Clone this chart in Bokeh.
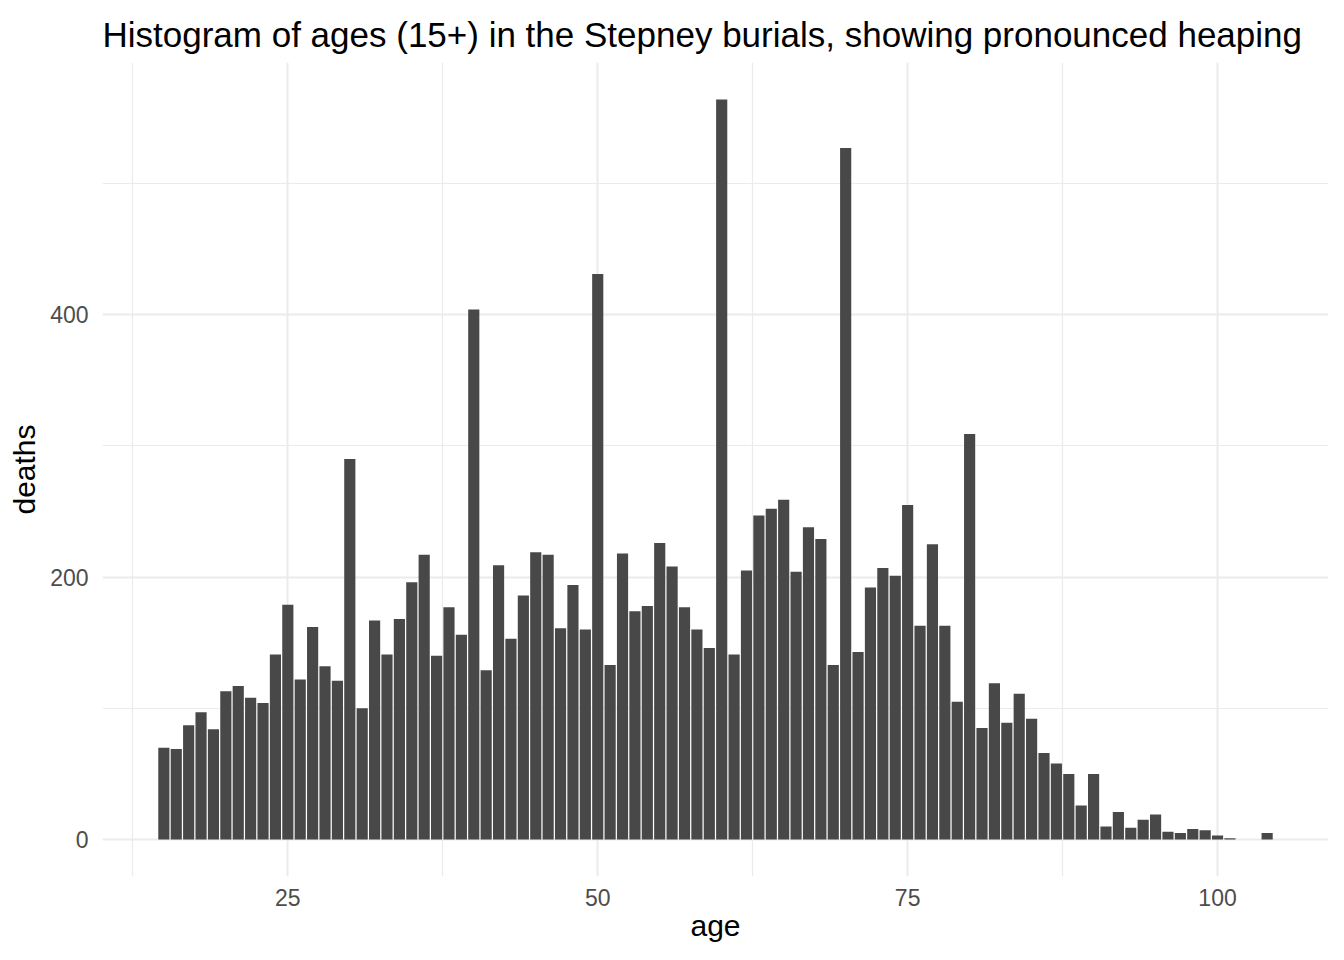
from bokeh.plotting import figure
from bokeh.models import Range1d, FixedTicker
from bokeh.embed import file_html
from bokeh.resources import INLINE

ages = list(range(15, 105))
deaths = [70, 69, 87, 97, 84, 113, 117, 108, 104, 141,
          179, 122, 162, 132, 121, 290, 100, 167, 141, 168,
          196, 217, 140, 177, 156, 404, 129, 209, 153, 186,
          219, 217, 161, 194, 160, 431, 133, 218, 174, 178,
          226, 208, 177, 160, 146, 564, 141, 205, 247, 252,
          259, 204, 238, 229, 133, 527, 143, 192, 207, 201,
          255, 163, 225, 163, 105, 309, 85, 119, 89, 111,
          92, 66, 58, 50, 26, 50, 10, 21, 9, 15,
          19, 6, 5, 8, 7, 3, 1, 0, 0, 5]
x_ticks = [25, 50, 75, 100]
x_minor = [12.5, 37.5, 62.5, 87.5]
y_ticks = [0, 200, 400]
y_minor = [100, 300, 500]
title_text = "Histogram of ages (15+) in the Stepney burials, showing pronounced heaping"

FONT = "Liberation Sans"

p = figure(width=1328, height=944, output_backend="svg", toolbar_location=None,
           x_range=Range1d(10.05, 108.95), y_range=Range1d(-28.2, 592.2),
           min_border_left=102, min_border_right=0, min_border_top=62, min_border_bottom=68)
p.outline_line_color = None
p.background_fill_color = "white"
p.border_fill_color = "white"

p.vbar(x=ages, top=deaths, width=0.9, bottom=0, fill_color="#484848", line_color=None)

p.title.text = title_text
p.title.align = "left"
p.title.text_font = FONT
p.title.text_font_size = "35px"
p.title.text_font_style = "normal"
p.title.text_color = "black"
p.title.standoff = 18

p.xaxis.ticker = FixedTicker(ticks=x_ticks, minor_ticks=x_minor)
p.yaxis.ticker = FixedTicker(ticks=y_ticks, minor_ticks=y_minor)
p.xaxis.axis_label = "age"
p.yaxis.axis_label = "deaths"

for ax in (p.xaxis, p.yaxis):
    ax.axis_line_color = None
    ax.major_tick_line_color = None
    ax.minor_tick_line_color = None
    ax.major_tick_out = 0
    ax.major_tick_in = 0
    ax.minor_tick_out = 0
    ax.major_label_text_font = FONT
    ax.major_label_text_font_size = "23px"
    ax.major_label_text_color = "#4D4D4D"
    ax.axis_label_text_font = FONT
    ax.axis_label_text_font_size = "30px"
    ax.axis_label_text_font_style = "normal"
    ax.axis_label_text_color = "black"

p.yaxis.major_label_standoff = 14
p.xaxis.major_label_standoff = 12
p.yaxis.axis_label_standoff = 6
p.xaxis.axis_label_standoff = 0

for g in (p.xgrid, p.ygrid):
    g.grid_line_color = "#EBEBEB"
    g.grid_line_width = 2
    g.minor_grid_line_color = "#EBEBEB"
    g.minor_grid_line_width = 1.2

open("out.html", "w").write(file_html(p, INLINE))
